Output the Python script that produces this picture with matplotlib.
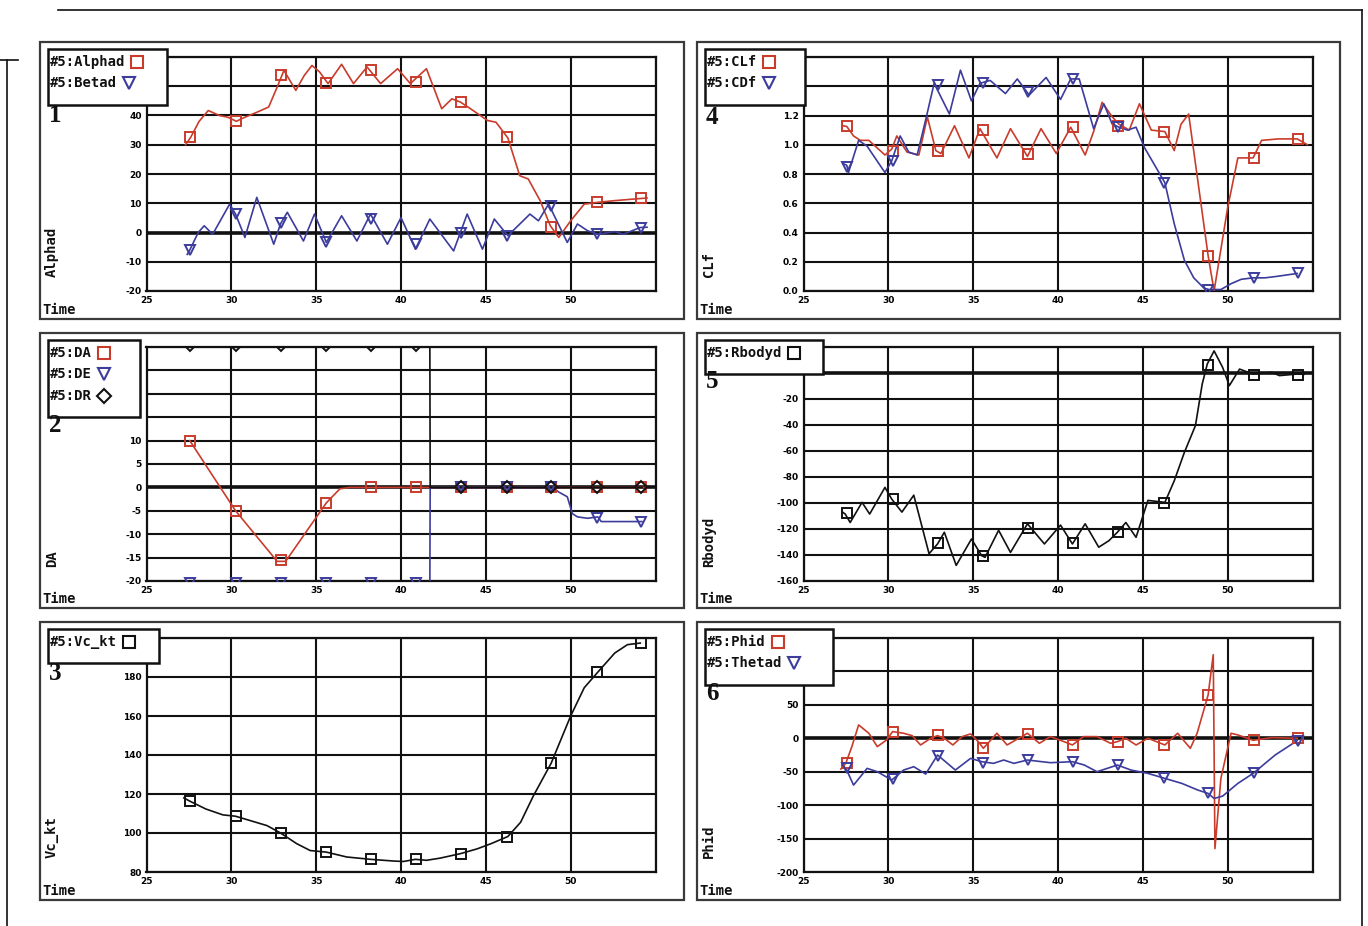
import numpy as np
import matplotlib
matplotlib.use("Agg")
import matplotlib.pyplot as plt
from matplotlib.patches import Rectangle
from matplotlib.lines import Line2D

W, H = 1368, 926
RED = "#c93c2c"
BLUE = "#3c3c9c"
BLK = "#111111"
MONO = "DejaVu Sans Mono"

# marker times shared by every trace
t_mk = [27.55, 30.25, 32.9, 35.6, 38.25, 40.9, 43.55, 46.25, 48.85, 51.55, 54.15]

# --- panel 1 : Alphad / Betad
alpha_t = [27.3, 27.6, 28.1, 28.64, 29.3, 29.8, 30.3, 30.6, 31.5, 32.2, 32.7, 33.1, 33.8, 34.3, 34.75,
           35.2, 35.7, 36.5, 37.2, 38.0, 38.8, 39.8, 40.55, 41.5, 42.4, 43.0, 43.5, 44.1, 45.1, 45.6,
           46.3, 47.0, 47.5, 48.2, 48.8, 49.3, 50.0, 50.8, 51.6, 52.6, 54.5]
alpha_v = [30, 32.5, 38, 41.7, 40, 39.4, 38, 38.9, 41.1, 42.9, 49.7, 55.4, 48.6, 53.7, 57.1,
           54.9, 50.9, 57.5, 50.9, 56.6, 50.9, 56, 50.9, 56, 42.3, 45.7, 44.6, 42.3, 38.3, 37.7,
           32.3, 19.4, 18.3, 10.9, 2.3, -1.7, 4, 9.7, 10.3, 10.9, 11.8]
alpha_mk = [32.5, 38, 54, 51, 55.5, 51.5, 44.5, 32.5, 2, 10.3, 11.7]

beta_t = [27.4, 27.55, 28.05, 28.4, 28.9, 29.9, 30.25, 30.8, 31.5, 32.5, 32.9, 33.3, 34.25, 34.9,
          35.6, 36.5, 37.4, 38.2, 39.2, 40.0, 40.85, 41.7, 43.1, 43.9, 44.8, 45.5, 46.3, 47.6,
          48.1, 48.7, 49.8, 50.4, 51.0, 51.6, 52.6, 53.1, 54.1, 54.5]
beta_v = [-7.5, -6, 0, 2.3, -0.6, 9.7, 6.3, -1.7, 12, -4, 3, 6.9, -2.9, 6.3,
          -3.4, 5.7, -2.9, 6.3, -4, 5.1, -5.7, 4.6, -6.3, 6.3, -5.7, 4.6, -1.1, 6.3,
          4, 9.7, -3.4, 2.9, 0.6, -0.6, 0.3, -0.6, 1.7, 1.8]
beta_mk = [-6, 6.3, 3.4, -3.4, 4.6, -4, 0, -1.1, 9.1, -0.6, 1.7]

# --- panel 4 : CLf / CDf
clf_t = [27.3, 27.55, 27.95, 28.35, 28.85, 29.8, 30.2, 30.5, 31.1, 31.8, 32.3, 32.8, 33.1, 33.9,
         34.75, 35.4, 36.4, 37.2, 38.2, 39.0, 39.9, 40.75, 41.6, 42.1, 42.6, 43.2, 43.6, 44.2,
         44.8, 45.5, 46.3, 46.85, 47.25, 47.7, 48.85, 49.2, 50.0, 50.6, 51.5, 52.0, 53.0, 54.1, 54.7]
clf_v = [1.13, 1.125, 1.06, 1.03, 1.03, 0.93, 0.97, 1.06, 0.95, 0.93, 1.19, 0.96, 0.94, 1.13,
         0.91, 1.11, 0.91, 1.11, 0.92, 1.11, 0.94, 1.12, 0.93, 1.09, 1.29, 1.19, 1.14, 1.10,
         1.28, 1.10, 1.09, 0.96, 1.14, 1.21, 0.24, 0.0, 0.57, 0.91, 0.91, 1.03, 1.04, 1.04, 1.0]
clf_mk = [1.125, 0.96, 0.96, 1.10, 0.94, 1.12, 1.13, 1.09, 0.24, 0.91, 1.04]

cdf_t = [27.35, 27.55, 27.65, 28.25, 28.75, 29.8, 30.2, 30.7, 31.2, 31.7, 32.2, 32.7, 33.6, 34.25,
         34.9, 35.4, 36.0, 36.9, 37.6, 38.3, 39.3, 40.15, 40.75, 41.25, 42.1, 42.7, 43.2, 43.6,
         44.1, 44.6, 45.1, 46.3, 46.85, 47.45, 48.0, 48.6, 48.9, 49.6, 50.2, 50.8, 51.5, 52.2,
         52.9, 54.1]
cdf_v = [0.87, 0.86, 0.81, 1.03, 0.99, 0.81, 0.89, 1.06, 0.95, 0.93, 1.17, 1.42, 1.21, 1.51,
         1.30, 1.42, 1.44, 1.35, 1.45, 1.34, 1.46, 1.31, 1.45, 1.45, 1.11, 1.28, 1.14, 1.12,
         1.10, 1.12, 0.98, 0.74, 0.46, 0.21, 0.09, 0.02, 0.01, 0.01, 0.05, 0.08, 0.09, 0.09,
         0.10, 0.12]
cdf_mk = [0.85, 0.89, 1.41, 1.42, 1.36, 1.45, 1.12, 0.74, 0.01, 0.09, 0.12]

# --- panel 2 : DA / DE / DR
da_t = [27.55, 30.25, 32.7, 33.2, 35.6, 36.4, 37.0, 54.3]
da_v = [10, -5, -15.8, -15.8, -3.3, -0.3, 0, 0]
da_mk = [10, -5, -15.6, -3.3, 0, 0, 0, 0, 0, 0, 0]

de_t = [27.55, 41.7, 41.72, 48.9, 49.3, 49.8, 50.1, 50.4, 51.0, 51.6, 51.8, 54.2]
de_v = [-20.5, -20.5, 0, 0, -1, -2, -5.6, -6.3, -6.6, -6.3, -7.3, -7.3]
de_mk = [-20.5, -20.5, -20.5, -20.5, -20.5, -20.5, 0, 0, 0, -6.5, -7.4]

dr_t = [27.55, 41.7, 41.72, 54.2]
dr_v = [30.5, 30.5, 0, 0]
dr_mk = [30.5, 30.5, 30.5, 30.5, 30.5, 30.5, 0, 0, 0, 0, 0]

# --- panel 5 : Rbodyd
rb_t = [27.3, 27.46, 27.75, 28.45, 28.9, 29.8, 30.2, 30.8, 31.5, 32.4, 32.9, 33.3, 34.0, 34.9,
        35.5, 35.7, 36.5, 37.2, 38.2, 39.2, 40.15, 40.85, 41.6, 42.4, 43.0, 43.5, 44.0, 44.6,
        45.3, 46.3, 46.85, 47.45, 48.1, 48.5, 48.8, 49.2, 49.7, 50.1, 50.7, 51.5, 52.6, 53.05,
        54.1, 54.5]
rb_v = [-107, -108.5, -115, -99.5, -108.5, -88, -97, -107, -94, -139, -131.5, -122.5, -148, -127.7,
        -140.5, -141.8, -121, -138, -116, -131.5, -117, -131.5, -116, -134, -129, -122.5, -115, -126.4,
        -98, -99.5, -83, -61, -40.5, -8.5, 7, 17, 4.4, -9.7, 3, -0.8, 0.5, -2,
        -0.8, -1]
rb_mk = [-108, -97, -131, -141, -119, -131, -122, -100, 6, -1.5, -1.5]

# --- panel 3 : Vc_kt
vc_t = [27.2, 27.56, 28.5, 29.5, 30.25, 31.1, 32.1, 32.9, 33.86, 34.65, 35.6, 36.8, 38.2, 39.6,
        40.15, 40.85, 41.5, 42.3, 43.5, 44.5, 45.3, 46.3, 47.05, 47.8, 48.85, 50.0, 50.8, 51.6,
        52.6, 53.35, 54.1]
vc_v = [118, 116.3, 112.3, 109.3, 108.6, 106.4, 103.8, 100, 94.5, 91, 90.2, 87.7, 86.5, 85.6,
        85.4, 86.5, 86, 87.1, 89.4, 91.9, 94.5, 98.2, 105.5, 119, 135.8, 160, 174.5, 182.5,
        192.3, 196.6, 197.4]
vc_mk = [116.3, 108.6, 100, 90.2, 86.5, 86.5, 89.4, 98.2, 135.8, 182.5, 197.5]

# --- panel 6 : Phid / Thetad
phi_t = [27.2, 27.5, 27.85, 28.25, 28.85, 29.35, 29.9, 30.25, 30.9, 31.4, 31.9, 32.5, 32.9, 33.3,
         33.8, 34.35, 34.85, 35.3, 35.6, 36.4, 37.0, 38.2, 38.9, 39.55, 40.35, 40.85, 41.5, 42.3,
         43.1, 43.5, 44.0, 44.6, 45.3, 46.3, 47.05, 47.8, 48.2, 48.85, 49.15, 49.25, 49.6, 50.2,
         50.6, 51.5, 52.6, 54.1]
phi_v = [-46, -37, -12.5, 20, 7.5, -12.5, -2.5, 10, 7.5, 4, -10, 0, 4, 0,
         -10, 2.5, 6.5, -5, -15, 7.5, -10, 7.5, -7.5, 2.5, -5, -10, 2.5, 2.5,
         -7.5, -5, 0, -10, 0, -10, 7.5, -15, 7.5, 65, 125, -165, -60, 7.5,
         5, -3, 1, 0]
phi_mk = [-37.5, 10, 5, -15, 6, -10, -5, -10, 65, -2.5, 0]

theta_t = [27.26, 27.5, 27.95, 28.75, 29.35, 30.2, 30.9, 31.5, 32.2, 32.9, 33.95, 34.85, 35.5,
           36.2, 36.8, 37.4, 38.2, 39.55, 40.85, 41.55, 42.3, 42.9, 43.5, 44.3, 45.3, 46.3, 47.3,
           48.25, 48.85, 49.2, 49.7, 50.6, 51.5, 52.8, 54.1]
theta_v = [-40, -45, -70, -45, -50, -62.5, -47.5, -42.5, -53.5, -25, -47.5, -30, -35,
           -37.5, -32.5, -37.5, -32.5, -36.5, -35, -40, -50, -45, -40, -47.5, -52.5, -60, -67.5,
           -77.5, -82.5, -90, -86.5, -67.5, -52.5, -25, -3.5]
theta_mk = [-45, -61.5, -26.5, -36.5, -32.5, -35, -40, -60, -81.5, -51.5, -3.5]

x_ticks = [25, 30, 35, 40, 45, 50, 55]
x_labels = ["25", "30", "35", "40", "45", "50", ""]


def fx(x):
    return x / W


def fy(y):
    return 1 - y / H


fig = plt.figure(figsize=(W / 100, H / 100), dpi=100)
renderer = fig.canvas.get_renderer()

# page decoration
for (x0, y0, x1, y1) in [(7, 60, 7, 926), (0, 60, 18, 60), (58, 10, 1362, 10), (1362, 10, 1362, 926)]:
    fig.add_artist(Line2D([fx(x0), fx(x1)], [fy(y0), fy(y1)], transform=fig.transFigure,
                          color=BLK, lw=1.2))

panels = [
    dict(frame=(40, 42, 684, 319), area=(146.5, 57, 655.5, 291), ylim=(-20, 60),
         yticks=list(range(-20, 61, 10)), ylabels=["-20", "-10", "0", "10", "20", "30", "40", "", ""],
         zero=True, name="Alphad", num="1", num_y=116, legend_w=119, legend_rows=2,
         series=[("#5:Alphad", alpha_t, alpha_v, alpha_mk, RED, "s"),
                 ("#5:Betad", beta_t, beta_v, beta_mk, BLUE, "v")]),
    dict(frame=(697, 42, 1340, 319), area=(803.5, 57, 1312.5, 291), ylim=(0, 1.6),
         yticks=[0, 0.2, 0.4, 0.6, 0.8, 1.0, 1.2, 1.4, 1.6],
         ylabels=["0.0", "0.2", "0.4", "0.6", "0.8", "1.0", "1.2", "", ""],
         zero=False, name="CLf", num="4", num_y=118, legend_w=100, legend_rows=2,
         series=[("#5:CLf", clf_t, clf_v, clf_mk, RED, "s"),
                 ("#5:CDf", cdf_t, cdf_v, cdf_mk, BLUE, "v")]),
    dict(frame=(40, 333, 684, 608), area=(146.5, 347, 655.5, 581), ylim=(-20, 30),
         yticks=list(range(-20, 31, 5)),
         ylabels=["-20", "-15", "-10", "-5", "0", "5", "10", "", "", "", ""],
         zero=True, name="DA", num="2", num_y=425, legend_w=92, legend_rows=3,
         series=[("#5:DA", da_t, da_v, da_mk, RED, "s"),
                 ("#5:DE", de_t, de_v, de_mk, BLUE, "v"),
                 ("#5:DR", dr_t, dr_v, dr_mk, BLK, "D")]),
    dict(frame=(697, 333, 1340, 608), area=(803.5, 347, 1312.5, 581), ylim=(-160, 20),
         yticks=list(range(-160, 21, 20)),
         ylabels=["-160", "-140", "-120", "-100", "-80", "-60", "-40", "-20", "", ""],
         zero=True, name="Rbodyd", num="5", num_y=382, legend_w=118, legend_rows=1,
         series=[("#5:Rbodyd", rb_t, rb_v, rb_mk, BLK, "s")]),
    dict(frame=(40, 622, 684, 900), area=(146.5, 638, 655.5, 872), ylim=(80, 200),
         yticks=list(range(80, 201, 20)),
         ylabels=["80", "100", "120", "140", "160", "180", ""],
         zero=False, name="Vc_kt", num="3", num_y=673, legend_w=111, legend_rows=1,
         series=[("#5:Vc_kt", vc_t, vc_v, vc_mk, BLK, "s")]),
    dict(frame=(697, 622, 1340, 900), area=(803.5, 638, 1312.5, 872), ylim=(-200, 150),
         yticks=list(range(-200, 151, 50)),
         ylabels=["-200", "-150", "-100", "-50", "0", "50", "", ""],
         zero=True, name="Phid", num="6", num_y=693, legend_w=128, legend_rows=2,
         series=[("#5:Phid", phi_t, phi_v, phi_mk, RED, "s"),
                 ("#5:Thetad", theta_t, theta_v, theta_mk, BLUE, "v")]),
]

for p in panels:
    fl, ft, fr, fb = p["frame"]
    fig.add_artist(Rectangle((fx(fl), fy(fb)), fx(fr - fl), (fb - ft) / H, transform=fig.transFigure,
                             facecolor="white", edgecolor="#3a3a3a", lw=1.6, zorder=-1))

    x0, y0, x1, y1 = p["area"]
    ax = fig.add_axes([fx(x0), fy(y1), fx(x1 - x0), (y1 - y0) / H])
    ax.set_xlim(25, 55)
    ax.set_ylim(*p["ylim"])
    ax.set_xticks(x_ticks)
    ax.set_xticklabels(x_labels)
    ax.set_yticks(p["yticks"])
    ax.set_yticklabels(p["ylabels"])
    ax.tick_params(length=0, labelsize=6.5, pad=3.5)
    for lab in ax.get_xticklabels() + ax.get_yticklabels():
        lab.set_fontweight("bold")
    ax.grid(True, color=BLK, lw=1.5)
    ax.set_axisbelow(True)
    for sp in ax.spines.values():
        sp.set_color(BLK)
        sp.set_linewidth(1.6)
    if p["zero"]:
        ax.axhline(0, color=BLK, lw=2.6, zorder=1.5)

    for name, t, v, vm, col, mk in p["series"]:
        ax.plot(t, v, color=col, lw=1.2, zorder=3)
        ax.plot(t_mk, vm, ls="none", marker=mk, ms=6 if mk == "D" else 7.5, mfc="none",
                mec=col, mew=1.4, zorder=4)

    # axis captions and panel number
    fig.text(fx(fl + 2), fy(fb - 5), "Time", family=MONO, weight="bold", size=10,
             color=BLK, va="baseline")
    fig.text(fx(fl + 12), fy(y1 - 14), p["name"], family=MONO, weight="bold", size=10,
             rotation=90, ha="center", va="bottom", color=BLK)
    fig.text(fx(fl + 9), fy(p["num_y"]), p["num"], family="Liberation Serif", weight="bold",
             size=18, ha="left", va="center", color=BLK, zorder=7)

    # legend box (text first, marker after it)
    lx, ly = fl + 8, ft + 7
    nrow = p["legend_rows"]
    lh = 12.7 + (nrow - 1) * 21.5 + 21.5
    fig.add_artist(Rectangle((fx(lx), fy(ly + lh)), fx(p["legend_w"]), lh / H,
                             transform=fig.transFigure, facecolor="white", edgecolor=BLK,
                             lw=1.8, zorder=5))
    for i, (name, t, v, vm, col, mk) in enumerate(p["series"]):
        ry = ly + 12.7 + i * 21.5
        txt = fig.text(fx(lx + 2), fy(ry), name, family=MONO, weight="bold", size=10,
                       ha="left", va="center", color=BLK, zorder=6)
        bb = txt.get_window_extent(renderer)
        fig.add_artist(Line2D([fx(bb.x1 + 12)], [fy(ry)], transform=fig.transFigure,
                              ls="none", marker=mk, ms=7 if mk == "D" else 8.5, mfc="none",
                              mec=col, mew=1.5, zorder=6))

fig.savefig("out.png", dpi=100, facecolor="white")
